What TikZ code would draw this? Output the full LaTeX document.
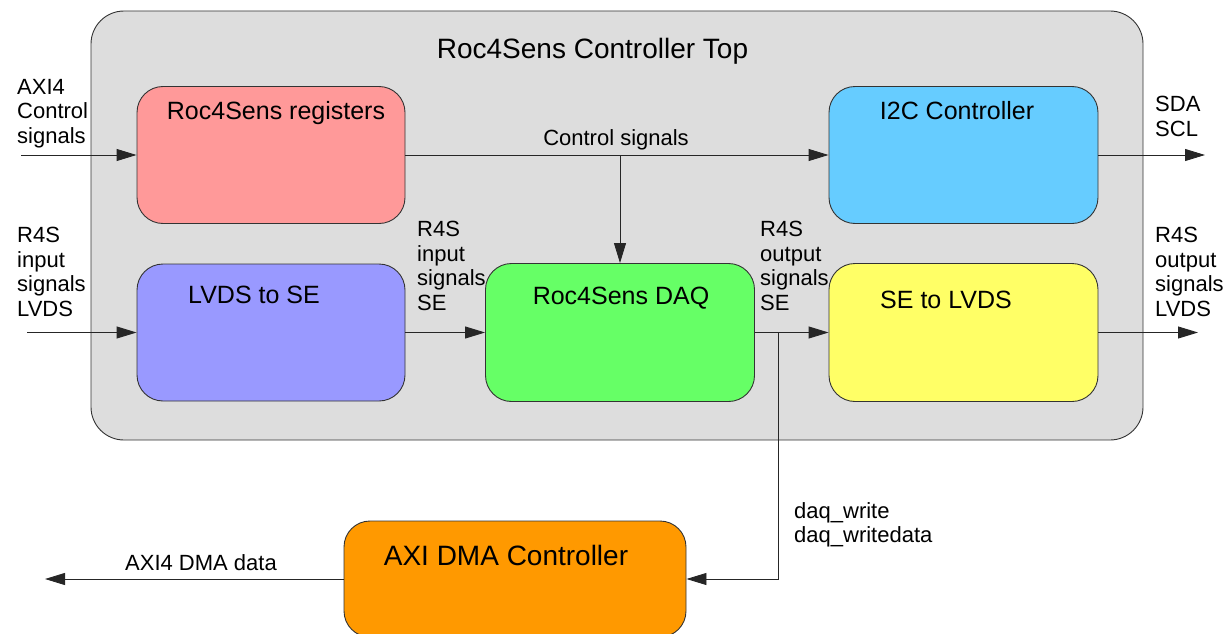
\documentclass[tikz,border=0pt]{standalone}
\usepackage{fontspec}
\setmainfont{Liberation Sans}
\usetikzlibrary{arrows.meta}

\definecolor{topfill}{HTML}{DDDDDD}
\definecolor{regfill}{HTML}{FF9999}
\definecolor{i2cfill}{HTML}{66CCFF}
\definecolor{lvdsfill}{HTML}{9999FF}
\definecolor{daqfill}{HTML}{66FF66}
\definecolor{sefill}{HTML}{FFFF66}
\definecolor{dmafill}{HTML}{FF9900}

\begin{document}
\begin{tikzpicture}[x=1pt,y=-1pt,
      block/.style={
            draw=black!80, line width=0.9pt, rounded corners=26pt,
            minimum width=268pt, minimum height=137pt, inner sep=0pt
        },
      blocklabel/.style={anchor=base, inner sep=0pt, font=\fontsize{25}{30}\selectfont},
      sig/.style={draw=black!85, line width=0.9pt, -{Triangle[length=20pt,width=12pt]}},
      siglabel/.style={anchor=north west, inner sep=0pt, align=left,
            font=\fontsize{22}{24.5}\selectfont}
      ]
    \useasboundingbox (0,0) rectangle (1228,634);

    % controller top
    \node[draw=black!80, line width=0.9pt, rounded corners=33pt, fill=topfill,
          minimum width=1052pt, minimum height=429pt] (top) at (617,225.5) {};
    \node[blocklabel, font=\fontsize{28}{34}\selectfont] (toptxt) at (592.5,59) {Roc4Sens Controller Top};

    \node[block, fill=regfill] (regs) at (271,155) {};
    \node[block, fill=i2cfill, minimum width=269pt] (i2c) at (963.5,155) {};
    \node[block, fill=lvdsfill] (lvds) at (271,332.5) {};
    \node[block, fill=daqfill, minimum width=269pt, minimum height=138pt] (daq) at (620,332.5) {};
    \node[block, fill=sefill, minimum width=269pt, minimum height=138pt] (se) at (963.5,332.5) {};
    \node[block, fill=dmafill, minimum width=342pt, minimum height=116pt] (dma) at (515,579) {};

    \node[blocklabel] (regstxt) at (276,119) {Roc4Sens registers};
    \node[blocklabel] (i2ctxt) at (957,119) {I2C Controller};
    \node[blocklabel] (lvdstxt) at (254,303) {LVDS to SE};
    \node[blocklabel] (daqtxt) at (621,304) {Roc4Sens DAQ};
    \node[blocklabel] (setxt) at (946,308) {SE to LVDS};
    \node[blocklabel, font=\fontsize{28}{34}\selectfont] (dmatxt) at (506,565) {AXI DMA Controller};

    % free ends and taps
    \coordinate (axiin) at (21,155);
    \coordinate (r4sin) at (27,332.5);
    \coordinate (sdaout) at (1205,155);
    \coordinate (r4sout) at (1198,332.5);
    \coordinate (dmaout) at (45,579);
    \coordinate (tap) at (620,155);
    \coordinate (jn) at (778,332.5);

    \draw[sig] (axiin) -- (regs);
    \draw[sig] (regs) -- (i2c);
    \draw[sig] (tap) -- (daq);
    \draw[sig] (i2c) -- (sdaout);
    \draw[sig] (r4sin) -- (lvds);
    \draw[sig] (lvds) -- (daq);
    \draw[sig] (daq) -- (se);
    \draw[sig] (se) -- (r4sout);
    \draw[sig] (jn) |- (dma);
    \draw[sig] (dma) -- (dmaout);

    % signal names
    \node[siglabel] (axitxt) at (17,79) {AXI4\\Control\\signals};
    \node[siglabel, anchor=base] (ctrltxt) at (616,145) {Control signals};
    \node[siglabel] (r4sintxt) at (17,227) {R4S\\input\\signals\\LVDS};
    \node[siglabel] (seintxt) at (417,221) {R4S\\input\\signals\\SE};
    \node[siglabel] (seouttxt) at (760,221) {R4S\\output\\signals\\SE};
    \node[siglabel] (r4souttxt) at (1155,227) {R4S\\output\\signals\\LVDS};
    \node[siglabel] (sdatxt) at (1155,96) {SDA\\SCL};
    \node[siglabel] (daqwtxt) at (794,502) {daq\_write\\daq\_writedata};
    \node[siglabel, anchor=base] (dmaouttxt) at (201,570) {AXI4 DMA data};
  \end{tikzpicture}
\end{document}
